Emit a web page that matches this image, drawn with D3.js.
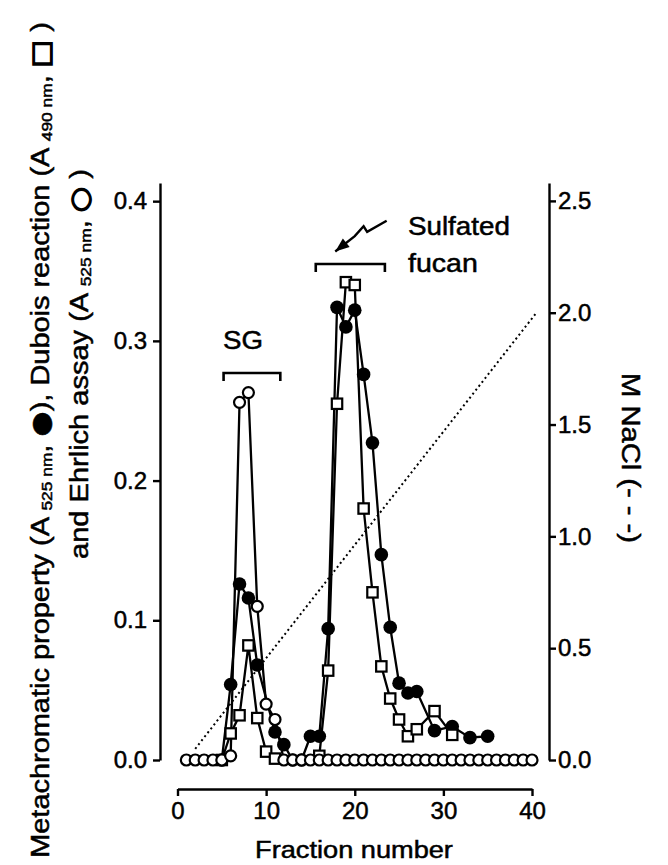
<!DOCTYPE html>
<html lang="en">
<head>
<meta charset="utf-8">
<script src="https://d3js.org/d3.v7.min.js"></script>
<title>Fractionation profile</title>
<style>
    body { margin: 0; background: #fff; }
    svg text { font-family: "Liberation Sans", Arial, Helvetica, sans-serif; fill: #000; stroke: #000; stroke-width: 0.5px; }
    .axis path, .axis line { stroke: #000; stroke-width: 2.4; }
    .axis text { font-size: 24px; }
</style>
</head>
<body>
<div id="chart"></div>
<script>
// metachromatic property (A525, filled circles)
const metaFractions = [5, 6, 7, 8, 9, 11, 12, 13, 14, 15, 16, 17, 18, 19, 20, 21, 22, 23, 24, 25, 26, 27, 29, 31, 33, 35];
const metaValues    = [0, 0.054, 0.126, 0.116, 0.068, 0.020, 0.011, 0, 0, 0.017, 0.017, 0.094, 0.324, 0.310, 0.322, 0.276, 0.227, 0.147, 0.095, 0.055, 0.048, 0.049, 0.021, 0.024, 0.016, 0.017];

// Dubois reaction (A490, open squares)
const duboisFractions = [5, 6, 7, 8, 9, 10, 11, 16, 17, 18, 19, 20, 21, 22, 23, 24, 25, 26, 27, 29, 31];
const duboisValues    = [0, 0.019, 0.032, 0.082, 0.030, 0.006, 0.001, 0.003, 0.064, 0.255, 0.342, 0.340, 0.180, 0.120, 0.067, 0.044, 0.029, 0.017, 0.022, 0.035, 0.018];

// Ehrlich assay (A525, open circles)
const ehrlichFractions = [1, 2, 3, 4, 5, 6, 7, 8, 9, 10, 11, 12, 13, 14, 15, 16, 17, 18, 19, 20,
                          21, 22, 23, 24, 25, 26, 27, 28, 29, 30, 31, 32, 33, 34, 35, 36, 37, 38, 39, 40];
const ehrlichValues    = [0, 0, 0, 0, 0, 0.003, 0.256, 0.263, 0.110, 0.040, 0.029, 0, 0, 0, 0, 0, 0, 0, 0, 0,
                          0, 0, 0, 0, 0, 0, 0, 0, 0, 0, 0, 0, 0, 0, 0, 0, 0, 0, 0, 0];

// NaCl gradient (dotted, right axis)
const naclFractions = [2, 40.5];
const naclValues    = [0.05, 2.0];

const xTicks = [0, 10, 20, 30, 40];
const leftTicks = [0, 0.1, 0.2, 0.3, 0.4];
const rightTicks = [0, 0.5, 1.0, 1.5, 2.0, 2.5];

// annotations, in data units
const sgBracket = [5.2, 11.6, 0.277];
const fucanBracket = [15.6, 23.4, 0.355];
const fucanArrow = [[23.6, 0.386], [21.4, 0.378], [21.0, 0.382], [20.0, 0.375]];
const fucanArrowTip = [17.8, 0.364];

const W = 668, H = 865;
const svg = d3.select("#chart").append("svg")
    .attr("width", W)
    .attr("height", H);

const x = d3.scaleLinear().domain([0, 40]).range([177.5, 532]);
const y = d3.scaleLinear().domain([0, 0.413]).range([760, 183]);
const yRight = d3.scaleLinear().domain([0, 2.58]).range([760, 183]);

// axes
svg.append("g")
    .attr("class", "axis")
    .attr("transform", "translate(160,0)")
    .call(d3.axisLeft(y).tickValues(leftTicks).tickFormat(d3.format(".1f"))
        .tickSize(7).tickSizeOuter(0).tickPadding(6));

svg.append("g")
    .attr("class", "axis")
    .attr("transform", "translate(549,0)")
    .call(d3.axisRight(yRight).tickValues(rightTicks).tickFormat(d3.format(".1f"))
        .tickSize(7).tickSizeOuter(0).tickPadding(2));

svg.append("g")
    .attr("class", "axis")
    .attr("transform", "translate(0,789)")
    .call(d3.axisBottom(x).tickValues(xTicks).tickSize(7).tickSizeOuter(0).tickPadding(6));

// stretch a label along its reading direction to a given length
function fitLength(sel, len, cx, cy, angle) {
    const L = sel.node().getComputedTextLength();
    sel.attr("transform", `translate(${cx},${cy}) rotate(${angle}) scale(${len / L},1)`);
}

const xLabel = svg.append("text")
    .attr("text-anchor", "middle")
    .style("font-size", "24px")
    .text("Fraction number");
fitLength(xLabel, 198, 354, 858, 0);

// left axis title, two lines
const sub = 15;
const t1 = svg.append("text").attr("text-anchor", "middle").style("font-size", "25px");
t1.append("tspan").text("Metachromatic property (A ");
t1.append("tspan").style("font-size", sub + "px").attr("dy", 3).text("525 nm");
t1.append("tspan").attr("dy", -3).text(", ");
t1.append("tspan").style("font-family", "DejaVu Sans").text("\u25CF");
t1.append("tspan").text("), Dubois reaction (A ");
t1.append("tspan").style("font-size", sub + "px").attr("dy", 3).text("490 nm");
t1.append("tspan").attr("dy", -3).text(", ");
t1.append("tspan").style("font-family", "DejaVu Sans").style("stroke-width", "1.5px").text("\u25A1");
t1.append("tspan").text(" )");
fitLength(t1, 836, 49, 440, -90);

const t2 = svg.append("text").attr("text-anchor", "middle").style("font-size", "25px");
t2.append("tspan").text("and Ehrlich assay (A ");
t2.append("tspan").style("font-size", sub + "px").attr("dy", 3).text("525 nm");
t2.append("tspan").attr("dy", -3).text(", ");
t2.append("tspan").style("font-family", "DejaVu Sans").style("stroke-width", "1.5px").text("\u25CB");
t2.append("tspan").text(" )");
fitLength(t2, 390, 88, 364, -90);

const rLabel = svg.append("text")
    .attr("text-anchor", "middle")
    .style("font-size", "25px")
    .text("M NaCl (- - -)");
fitLength(rLabel, 170, 622, 458, 90);

// NaCl gradient
const line = d3.line().x(d => x(d[0])).y(d => y(d[1]));
const lineR = d3.line().x(d => x(d[0])).y(d => yRight(d[1]));

svg.append("path")
    .attr("d", lineR(d3.zip(naclFractions, naclValues)))
    .attr("fill", "none")
    .attr("stroke", "#000")
    .attr("stroke-width", 2)
    .attr("stroke-dasharray", "2,3");

const meta = d3.zip(metaFractions, metaValues);
const dubois = d3.zip(duboisFractions, duboisValues);
const ehrlich = d3.zip(ehrlichFractions, ehrlichValues);

[meta, dubois, ehrlich].forEach(pts => {
    svg.append("path")
        .attr("d", line(pts))
        .attr("fill", "none")
        .attr("stroke", "#000")
        .attr("stroke-width", 2.3);
});

svg.append("g").selectAll("circle")
    .data(meta)
    .enter()
    .append("circle")
    .attr("cx", d => x(d[0]))
    .attr("cy", d => y(d[1]))
    .attr("r", 6.8)
    .attr("fill", "#000");

svg.append("g").selectAll("rect")
    .data(dubois)
    .enter()
    .append("rect")
    .attr("x", d => x(d[0]) - 5.2)
    .attr("y", d => y(d[1]) - 5.2)
    .attr("width", 10.4)
    .attr("height", 10.4)
    .attr("fill", "#fff")
    .attr("stroke", "#000")
    .attr("stroke-width", 2.2);

svg.append("g").selectAll("circle")
    .data(ehrlich)
    .enter()
    .append("circle")
    .attr("cx", d => x(d[0]))
    .attr("cy", d => y(d[1]))
    .attr("r", 5.5)
    .attr("fill", "#fff")
    .attr("stroke", "#000")
    .attr("stroke-width", 2.2);

// brackets
function bracket(b) {
    const x0 = x(b[0]), x1 = x(b[1]), yy = y(b[2]);
    svg.append("path")
        .attr("d", `M${x0},${yy + 8}V${yy}H${x1}V${yy + 8}`)
        .attr("fill", "none")
        .attr("stroke", "#000")
        .attr("stroke-width", 2.6);
}
bracket(sgBracket);
bracket(fucanBracket);

const sg = svg.append("text")
    .attr("text-anchor", "middle")
    .style("font-size", "25px")
    .text("SG");
fitLength(sg, 40, x(7.4), y(0.294), 0);

const sulf = svg.append("text")
    .attr("text-anchor", "middle")
    .style("font-size", "25px")
    .text("Sulfated");
fitLength(sulf, 102, x(26.0) + 51, y(0.3758), 0);
const fucan = svg.append("text")
    .attr("text-anchor", "middle")
    .style("font-size", "25px")
    .text("fucan");
fitLength(fucan, 70, x(26.0) + 35, y(0.3493), 0);

// zig-zag arrow
svg.append("path")
    .attr("d", line(fucanArrow.concat([fucanArrowTip])))
    .attr("fill", "none")
    .attr("stroke", "#000")
    .attr("stroke-width", 2.4);

const last = fucanArrow[fucanArrow.length - 1];
const tx = x(fucanArrowTip[0]), ty = y(fucanArrowTip[1]);
const dx = tx - x(last[0]), dy = ty - y(last[1]);
const dl = Math.hypot(dx, dy), ux = dx / dl, uy = dy / dl;
svg.append("path")
    .attr("d", `M${tx},${ty}L${tx - 14 * ux - 5.5 * uy},${ty - 14 * uy + 5.5 * ux}L${tx - 14 * ux + 5.5 * uy},${ty - 14 * uy - 5.5 * ux}Z`)
    .attr("fill", "#000");
</script>
</body>
</html>
